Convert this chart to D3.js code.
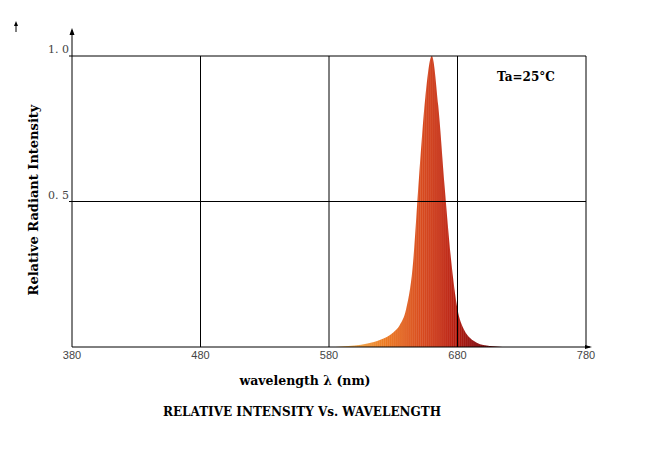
<!DOCTYPE html>
<html><head><meta charset="utf-8">
<script src="https://cdn.jsdelivr.net/npm/d3@7.9.0/dist/d3.min.js"></script>
<style>body{margin:0;background:#fff}</style></head>
<body><svg id="c" width="671" height="450"></svg>
<script>
// spectrum
const wavelengths = [585, 590, 600, 610, 620, 630, 635, 640, 645, 650, 655, 660, 665, 670, 675, 680, 685, 690, 695, 700, 710, 720, 780];
const intensity   = [0, 0.002, 0.005, 0.012, 0.025, 0.05, 0.075, 0.13, 0.27, 0.58, 0.86, 1.0, 0.83, 0.55, 0.3, 0.13, 0.06, 0.03, 0.015, 0.007, 0.002, 0, 0];
const xTicks = [380, 480, 580, 680, 780];
const yTicks = [0.5, 1.0];
const yTickLabels = ["0. 5", "1. 0"];

const svg = d3.select("#c");
const x = d3.scaleLinear().domain([380, 780]).range([72, 586]);
const y = d3.scaleLinear().domain([0, 1]).range([347, 56]);
const data = wavelengths.map((w, i) => ({w, v: intensity[i]}));

//gradient
const defs = svg.append("defs");
const grad = defs.append("linearGradient").attr("id", "g")
  .attr("gradientUnits", "userSpaceOnUse").attr("x1", x(595)).attr("x2", x(710));
[[0, "#f4b050"], [0.25, "#ec7a22"], [0.5, "#d84a1e"], [0.7, "#bc2212"], [0.85, "#8e0e0e"], [1, "#6a0000"]]
  .forEach(([o, c]) => grad.append("stop").attr("offset", o).attr("stop-color", c));

const area = d3.area().x(d => x(d.w)).y0(y(0)).y1(d => y(d.v)).curve(d3.curveMonotoneX);
defs.append("clipPath").attr("id", "clip").append("path").datum(data).attr("d", area);

svg.append("path").datum(data).attr("d", area).attr("fill", "url(#g)");
// thin vertical stripes
svg.append("g").attr("clip-path", "url(#clip)").selectAll("line")
  .data(d3.range(600, 705, 1.6)).join("line")
  .attr("x1", d => x(d)).attr("x2", d => x(d)).attr("y1", y(1)).attr("y2", y(0))
  .attr("stroke", "#fff").attr("stroke-opacity", 0.12).attr("stroke-width", 1);

// grid
const g = svg.append("g").attr("stroke", "#000").attr("stroke-width", 1);
g.selectAll(".v").data(xTicks.slice(1)).join("line")
  .attr("x1", d => x(d)).attr("x2", d => x(d)).attr("y1", y(1)).attr("y2", y(0));
g.selectAll(".h").data(yTicks).join("line")
  .attr("x1", x(380) - 3).attr("x2", x(780)).attr("y1", d => y(d)).attr("y2", d => y(d));
// axes
g.append("line").attr("x1", x(380)).attr("x2", x(380)).attr("y1", 30).attr("y2", y(0));
g.append("line").attr("x1", x(380)).attr("x2", 590).attr("y1", y(0)).attr("y2", y(0));
svg.append("path").attr("d", `M${x(380)},28 l-2.5,7 h5 z`).attr("fill", "#000");
svg.append("path").attr("d", `M592,${y(0)} l-7,-2 v4 z`).attr("fill", "#000");
svg.append("line").attr("x1", 16).attr("x2", 16).attr("y1", 24).attr("y2", 32).attr("stroke", "#000");
svg.append("path").attr("d", "M16,21 l-2,5 h4 z").attr("fill", "#000");

// tick labels
svg.selectAll(".xt").data(xTicks).join("text")
  .attr("x", d => x(d)).attr("y", 359).attr("text-anchor", "middle")
  .attr("font-family", "Liberation Sans, sans-serif").attr("font-size", 11).attr("fill", "#444").text(d => d);
svg.selectAll(".yt").data(yTicks).join("text")
  .attr("x", 69).attr("y", d => y(d) - 3).attr("text-anchor", "end")
  .attr("font-family", "DejaVu Serif, serif").attr("font-size", 11).attr("fill", "#444")
  .text((d, i) => yTickLabels[i]);

const bold = "DejaVu Serif, serif";
svg.append("text").attr("x", 497).attr("y", 81).attr("font-family", bold).attr("font-weight", "bold")
  .attr("font-size", 12).text("Ta=25°C");
svg.append("text").attr("x", 305).attr("y", 385).attr("text-anchor", "middle").attr("font-family", bold)
  .attr("font-weight", "bold").attr("font-size", 12.5).text("wavelength λ (nm)");
svg.append("text").attr("x", 302).attr("y", 416).attr("text-anchor", "middle").attr("font-family", bold)
  .attr("font-weight", "bold").attr("font-size", 12).text("RELATIVE INTENSITY Vs. WAVELENGTH");
svg.append("text").attr("transform", "translate(38,200) rotate(-90)").attr("text-anchor", "middle")
  .attr("font-family", bold).attr("font-weight", "bold").attr("font-size", 13).text("Relative  Radiant  Intensity");
</script></body></html>
